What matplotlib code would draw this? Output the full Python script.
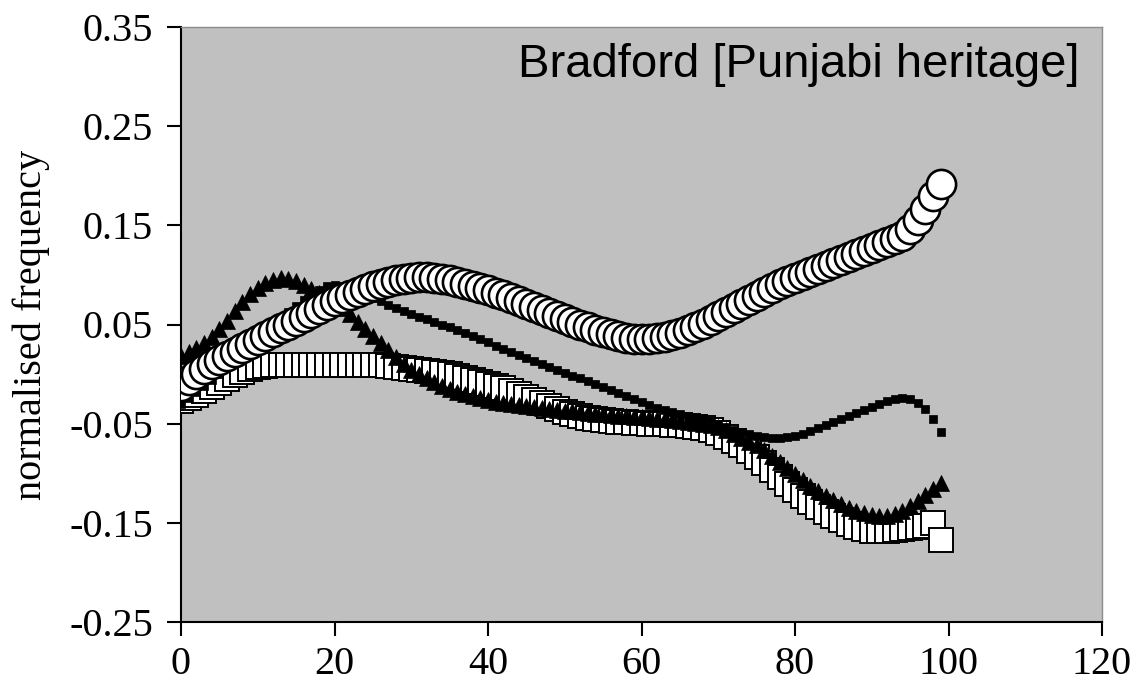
import matplotlib
matplotlib.use("Agg")
import matplotlib.pyplot as plt

x_values = list(range(100))

circles = [
    -0.012, -0.006, 0.000, 0.005, 0.010, 0.014, 0.018, 0.022, 0.026, 0.030,
    0.034, 0.038, 0.042, 0.046, 0.050, 0.054, 0.058, 0.062, 0.066, 0.070,
    0.074, 0.077, 0.080, 0.083, 0.086, 0.089, 0.091, 0.093, 0.095, 0.096,
    0.097, 0.098, 0.098, 0.097, 0.096, 0.095, 0.093, 0.091, 0.089, 0.087,
    0.085, 0.082, 0.080, 0.077, 0.074, 0.071, 0.068, 0.065, 0.062, 0.059,
    0.056, 0.053, 0.050, 0.047, 0.044, 0.042, 0.040, 0.038, 0.036, 0.035,
    0.035, 0.035, 0.036, 0.037, 0.039, 0.041, 0.044, 0.047, 0.051, 0.055,
    0.059, 0.063, 0.067, 0.071, 0.075, 0.079, 0.083, 0.087, 0.091, 0.094,
    0.097, 0.100, 0.103, 0.106, 0.109, 0.112, 0.115, 0.118, 0.121, 0.124,
    0.127, 0.130, 0.133, 0.136, 0.139, 0.146, 0.155, 0.166, 0.180, 0.192,
]

open_squares = [
    -0.027, -0.024, -0.021, -0.017, -0.013, -0.009, -0.005, -0.001, 0.002, 0.005,
    0.007, 0.008, 0.009, 0.009, 0.009, 0.009, 0.009, 0.009, 0.009, 0.009,
    0.009, 0.009, 0.009, 0.009, 0.009, 0.009, 0.009, 0.008, 0.007, 0.006,
    0.005, 0.004, 0.003, 0.002, 0.001, 0.000, -0.002, -0.004, -0.006, -0.008,
    -0.010, -0.012, -0.014, -0.017, -0.020, -0.023, -0.026, -0.029, -0.032, -0.035,
    -0.038, -0.040, -0.042, -0.044, -0.045, -0.046, -0.047, -0.048, -0.048, -0.049,
    -0.049, -0.050, -0.050, -0.050, -0.051, -0.051, -0.052, -0.053, -0.054, -0.056,
    -0.059, -0.063, -0.067, -0.072, -0.078, -0.084, -0.090, -0.097, -0.104, -0.111,
    -0.117, -0.123, -0.129, -0.134, -0.139, -0.143, -0.147, -0.151, -0.154, -0.156,
    -0.158, -0.158, -0.158, -0.157, -0.156, -0.155, -0.154, -0.153, -0.150, -0.167,
]

triangles = [
    0.018, 0.022, 0.026, 0.031, 0.037, 0.045, 0.054, 0.064, 0.073, 0.081,
    0.087, 0.092, 0.095, 0.097, 0.096, 0.094, 0.090, 0.086, 0.082, 0.077,
    0.072, 0.067, 0.061, 0.053, 0.045, 0.038, 0.031, 0.024, 0.017, 0.010,
    0.004, 0.000, -0.004, -0.008, -0.012, -0.015, -0.018, -0.020, -0.022, -0.024,
    -0.026, -0.028, -0.029, -0.030, -0.031, -0.032, -0.033, -0.034, -0.035, -0.036,
    -0.037, -0.037, -0.038, -0.039, -0.040, -0.040, -0.041, -0.042, -0.042, -0.043,
    -0.043, -0.044, -0.045, -0.045, -0.046, -0.047, -0.048, -0.049, -0.050, -0.051,
    -0.053, -0.056, -0.060, -0.064, -0.068, -0.072, -0.077, -0.083, -0.089, -0.095,
    -0.101, -0.107, -0.113, -0.118, -0.123, -0.127, -0.131, -0.135, -0.138, -0.140,
    -0.142, -0.143, -0.143, -0.141, -0.138, -0.133, -0.128, -0.122, -0.116, -0.110,
]

small_squares = [
    -0.030, -0.024, -0.018, -0.012, -0.006, 0.000, 0.007, 0.014, 0.021, 0.028,
    0.035, 0.042, 0.049, 0.056, 0.063, 0.069, 0.075, 0.080, 0.085, 0.089,
    0.090, 0.089, 0.086, 0.083, 0.080, 0.077, 0.074, 0.070, 0.067, 0.064,
    0.061, 0.058, 0.056, 0.053, 0.050, 0.047, 0.044, 0.041, 0.038, 0.035,
    0.032, 0.028, 0.025, 0.022, 0.019, 0.016, 0.013, 0.010, 0.007, 0.004,
    0.001, -0.002, -0.004, -0.007, -0.010, -0.013, -0.016, -0.019, -0.022, -0.025,
    -0.028, -0.031, -0.034, -0.036, -0.038, -0.040, -0.042, -0.044, -0.046, -0.048,
    -0.050, -0.053, -0.056, -0.058, -0.060, -0.062, -0.063, -0.064, -0.064, -0.063,
    -0.062, -0.060, -0.057, -0.054, -0.051, -0.048, -0.045, -0.042, -0.039, -0.036,
    -0.033, -0.030, -0.027, -0.025, -0.024, -0.025, -0.029, -0.035, -0.045, -0.058,
]

x_ticks = [0, 20, 40, 60, 80, 100, 120]
x_tick_labels = ["0", "20", "40", "60", "80", "100", "120"]
y_ticks = [-0.25, -0.15, -0.05, 0.05, 0.15, 0.25, 0.35]
y_tick_labels = ["-0.25", "-0.15", "-0.05", "0.05", "0.15", "0.25", "0.35"]
panel_title = "Bradford [Punjabi heritage]"
y_label = "normalised frequency"

fig = plt.figure(figsize=(11.37, 6.95), dpi=100)
ax = fig.add_axes([181 / 1137, 1 - 622 / 695, 921 / 1137, 595 / 695])
ax.set_facecolor("#c0c0c0")

ax.plot(x_values, open_squares, linestyle="none", marker="s", markersize=17,
        markerfacecolor="white", markeredgecolor="black", markeredgewidth=1.4, zorder=3)
ax.plot(x_values, triangles, linestyle="none", marker="^", markersize=12,
        markerfacecolor="black", markeredgecolor="black", markeredgewidth=0.5, zorder=4)
ax.plot(x_values, small_squares, linestyle="none", marker="s", markersize=5.5,
        markerfacecolor="black", markeredgecolor="black", markeredgewidth=0.5, zorder=5)
ax.plot(x_values, circles, linestyle="none", marker="o", markersize=21,
        markerfacecolor="white", markeredgecolor="black", markeredgewidth=1.9, zorder=6)

ax.set_xlim(0, 120)
ax.set_ylim(-0.25, 0.35)
ax.set_xticks(x_ticks)
ax.set_xticklabels(x_tick_labels)
ax.set_yticks(y_ticks)
ax.set_yticklabels(y_tick_labels)

serif = ["Liberation Serif", "DejaVu Serif"]
for lab in ax.get_xticklabels() + ax.get_yticklabels():
    lab.set_fontfamily(serif)
    lab.set_fontsize(29)

ax.tick_params(axis="both", direction="out", length=10, width=1.5, color="black")
ax.tick_params(axis="x", pad=7)
ax.tick_params(axis="y", pad=10)

for side in ("left", "bottom"):
    ax.spines[side].set_color("black")
    ax.spines[side].set_linewidth(1.5)
for side in ("top", "right"):
    ax.spines[side].set_color("#8c8c8c")
    ax.spines[side].set_linewidth(1.0)

ax.set_ylabel(y_label, fontsize=29, family=serif, labelpad=14)

ax.text(0.976, 0.936, panel_title, transform=ax.transAxes, ha="right", va="center",
        fontsize=34, family=["Liberation Sans", "DejaVu Sans"], color="black", zorder=10)

fig.savefig("out.png", dpi=100)
